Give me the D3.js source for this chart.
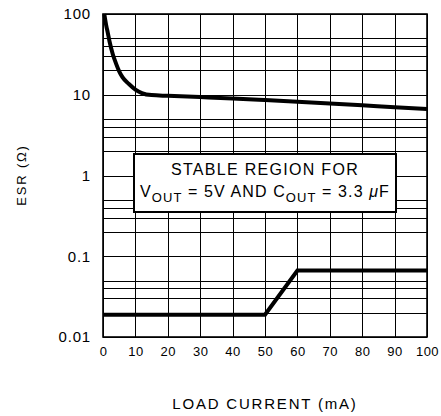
<!DOCTYPE html>
<html><head><meta charset="utf-8">
<script src="https://cdn.jsdelivr.net/npm/d3@7"></script>
<style>body{margin:0;background:#fff}svg{display:block}text{font-family:"Liberation Sans",Arial,sans-serif;fill:#000}</style>
</head><body>
<script>
const xTicks = [0,10,20,30,40,50,60,70,80,90,100];
const yTicks = [0.01,0.1,1,10,100];
const yTickLabels = ["0.01","0.1","1","10","100"];
const minorMult = [2,3,4,5];
// upper stability boundary (ESR max)
const upperX = [0.4,1,1.5,2,3,4,5,6,8,10,12,15,20,30,40,50,60,70,80,90,100];
const upperY = [100,72,58,46,32,24.5,19.5,16.5,13.6,11.6,10.5,9.9,9.7,9.35,9.0,8.6,8.2,7.8,7.4,7.0,6.65];
// lower stability boundary (ESR min)
const lowerX = [0,50,60,100];
const lowerY = [0.0189,0.0189,0.0665,0.0665];

const W=441,H=416;
const svg=d3.select("body").append("svg").attr("width",W).attr("height",H);
const x=d3.scaleLinear().domain([0,100]).range([103,427]);
const y=d3.scaleLog().domain([0.01,100]).range([337,14]);

const g=svg.append("g").attr("shape-rendering","crispEdges");
// minor horizontal grid
const minors=[];
[0.01,0.1,1,10].forEach(d=>minorMult.forEach(m=>minors.push(d*m)));
g.selectAll("line.hm").data(minors).enter().append("line")
 .attr("x1",x(0)).attr("x2",x(100)).attr("y1",d=>Math.round(y(d))+0.5).attr("y2",d=>Math.round(y(d))+0.5)
 .attr("stroke","#000").attr("stroke-width",1);
g.selectAll("line.hM").data(yTicks).enter().append("line")
 .attr("x1",x(0)).attr("x2",x(100)).attr("y1",d=>Math.round(y(d))+0.5).attr("y2",d=>Math.round(y(d))+0.5)
 .attr("stroke","#000").attr("stroke-width",1);
g.selectAll("line.v").data(xTicks).enter().append("line")
 .attr("y1",y(0.01)).attr("y2",y(100)).attr("x1",d=>Math.round(x(d))+0.5).attr("x2",d=>Math.round(x(d))+0.5)
 .attr("stroke","#000").attr("stroke-width",1);
// frame
svg.append("rect").attr("x",x(0)).attr("y",y(100)).attr("width",x(100)-x(0)).attr("height",y(0.01)-y(100))
 .attr("fill","none").attr("stroke","#000").attr("stroke-width",1.6);

// axes (labels only) using d3 axes
const xAxis=d3.axisBottom(x).tickValues(xTicks).tickSize(0).tickPadding(10).tickFormat(d3.format("d"));
const xa=svg.append("g").attr("transform",`translate(0,${y(0.01)})`).call(xAxis);
xa.select(".domain").remove();
xa.selectAll("text").attr("font-size",13).attr("font-family","Liberation Sans, Arial, sans-serif").attr("letter-spacing",0.5);
const yAxis=d3.axisLeft(y).tickValues(yTicks).tickSize(0).tickPadding(12).tickFormat((d,i)=>yTickLabels[i]);
const ya=svg.append("g").attr("transform",`translate(${x(0)},0)`).call(yAxis);
ya.select(".domain").remove();
ya.selectAll("text").attr("font-size",15).attr("font-family","Liberation Sans, Arial, sans-serif").attr("letter-spacing",0.8);

// curves
const line=d3.line().x(d=>x(d[0])).y(d=>y(d[1]));
svg.append("path").datum(upperX.map((v,i)=>[v,upperY[i]]))
 .attr("d",line.curve(d3.curveMonotoneX)).attr("fill","none").attr("stroke","#000").attr("stroke-width",4);
svg.append("path").datum(lowerX.map((v,i)=>[v,lowerY[i]]))
 .attr("d",d3.line().x(d=>x(d[0])).y(d=>y(d[1]))).attr("fill","none").attr("stroke","#000").attr("stroke-width",4).attr("stroke-linejoin","miter");

// box
svg.append("rect").attr("x",134).attr("y",154).attr("width",262).attr("height",58)
 .attr("fill","#fff").attr("stroke","#000").attr("stroke-width",2);
svg.append("text").attr("x",265).attr("y",175).attr("text-anchor","middle").attr("font-size",16).attr("letter-spacing",1.3)
 .text("STABLE REGION FOR");
const t2=svg.append("text").attr("x",265).attr("y",197).attr("text-anchor","middle").attr("font-size",16).attr("letter-spacing",1.1);
t2.append("tspan").text("V");
t2.append("tspan").attr("font-size",13).attr("dy",5).text("OUT");
t2.append("tspan").attr("dy",-5).text(" = 5V AND C");
t2.append("tspan").attr("font-size",13).attr("dy",5).text("OUT");
t2.append("tspan").attr("dy",-5).text(" = 3.3 ");
t2.append("tspan").attr("font-style","italic").text("μ");
t2.append("tspan").text("F");

// axis titles
svg.append("text").attr("x",265).attr("y",409).attr("text-anchor","middle").attr("font-size",15).attr("letter-spacing",1.8)
 .text("LOAD CURRENT (mA)");
svg.append("text").attr("transform","translate(26,175) rotate(-90)").attr("text-anchor","middle").attr("font-size",13).attr("letter-spacing",1.8)
 .text("ESR (Ω)");
</script>
</body></html>
